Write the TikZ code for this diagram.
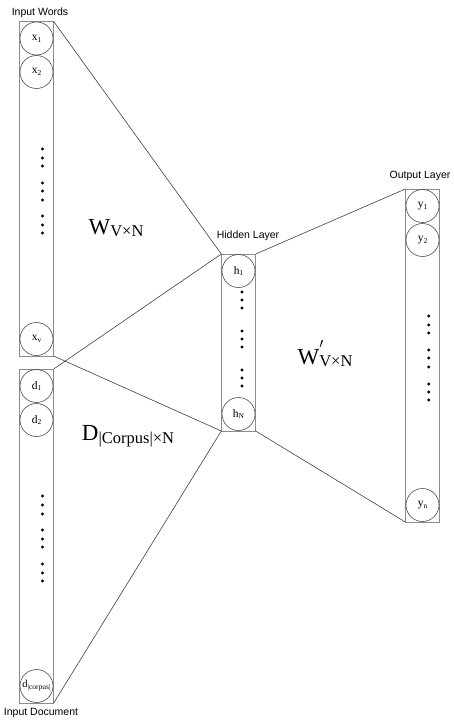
\documentclass[tikz,border=0pt]{standalone}
\usepackage{fontspec}
\setmainfont{Liberation Serif}
\newfontfamily\lblfont{Liberation Sans}
\newcommand{\sbs}[1]{\raisebox{-0.35ex}{\fontsize{7.5}{7.5}\selectfont #1}}
\newcommand{\bigsub}[1]{\raisebox{-2.5pt}{\fontsize{16.5}{16.5}\selectfont #1}}
\begin{document}
\begin{tikzpicture}[x=1pt,y=-1pt,
  layerbox/.style={draw=black!45,line width=0.9pt,rectangle,inner sep=0pt,outer sep=0pt,minimum width=34.4pt},
  unit/.style={draw=black!70,line width=0.6pt,circle,inner sep=0pt,minimum size=33pt,font=\fontsize{11.5}{12}\selectfont},
  conn/.style={draw=black!75,line width=0.6pt},
  laytitle/.style={font=\lblfont\fontsize{10.5}{11}\selectfont,inner sep=0pt},
  wlabel/.style={font=\fontsize{23}{23}\selectfont,inner sep=0pt},
  dotmark/.style={fill=black}]
\useasboundingbox (0,0) rectangle (453,720);

% layer boxes
\node[layerbox,minimum height=334.5pt] (inw) at (36.5,188.75) {};
\node[layerbox,minimum height=334pt] (indoc) at (36.5,536) {};
\node[layerbox,minimum height=177pt] (hid) at (238.5,342.5) {};
\node[layerbox,minimum height=333pt] (out) at (422.5,355.5) {};

% units
\node[unit] (x1) at (36.5,38.5) {x\sbs{1}};
\node[unit] (x2) at (36.5,72) {x\sbs{2}};
\node[unit] (xv) at (36.5,339) {x\sbs{v}};
\node[unit] (d1) at (36.5,386) {d\sbs{1}};
\node[unit] (d2) at (36.5,420) {d\sbs{2}};
\node[unit,font=\fontsize{10.5}{11}\selectfont] (dc) at (36.5,686) {d\sbs{|corpus|}};
\node[unit] (h1) at (238.5,271) {h\sbs{1}};
\node[unit] (hN) at (238.5,414) {h\sbs{N}};
\node[unit] (y1) at (422.5,206) {y\sbs{1}};
\node[unit] (y2) at (422.5,240) {y\sbs{2}};
\node[unit] (yn) at (422.5,505) {y\sbs{n}};

% vertical dots
\foreach \y in {149,158,166,183,191,200,216,225,233}
  \fill[dotmark] (42.5,\y) circle (1.7pt);
\foreach \y in {496,505,514,530,539,547,564,573,581}
  \fill[dotmark] (42.5,\y) circle (1.7pt);
\foreach \y in {292,300,308,331,339,347,370,378,386}
  \fill[dotmark] (242,\y) circle (1.7pt);
\foreach \y in {316,325,333,350,358,367,384,392,400}
  \fill[dotmark] (428.7,\y) circle (1.7pt);

% connectors
\draw[conn] (inw.north east) -- (hid.north west);
\draw[conn] (inw.south east) -- (hid.south west);
\draw[conn] (indoc.north east) -- (hid.north west);
\draw[conn] (indoc.south east) -- (hid.south west);
\draw[conn] (hid.north east) -- (out.north west);
\draw[conn] (hid.south east) -- (out.south west);

% titles
\node[laytitle] (tin) at (40,13) {Input Words};
\node[laytitle] (tdoc) at (41,713) {Input Document};
\node[laytitle] (thid) at (248,236) {Hidden Layer};
\node[laytitle] (tout) at (420,176) {Output Layer};

% matrix labels
\node[wlabel] (wm) at (116,228) {W\bigsub{V×N}};
\node[wlabel] (dm) at (128,436) {D\bigsub{|Corpus|×N}};
\node[wlabel] (wpm) at (325,354) {W\makebox[0pt][l]{\raisebox{8pt}{\fontsize{20}{20}\selectfont$'$}}\bigsub{V×N}};
\end{tikzpicture}
\end{document}
